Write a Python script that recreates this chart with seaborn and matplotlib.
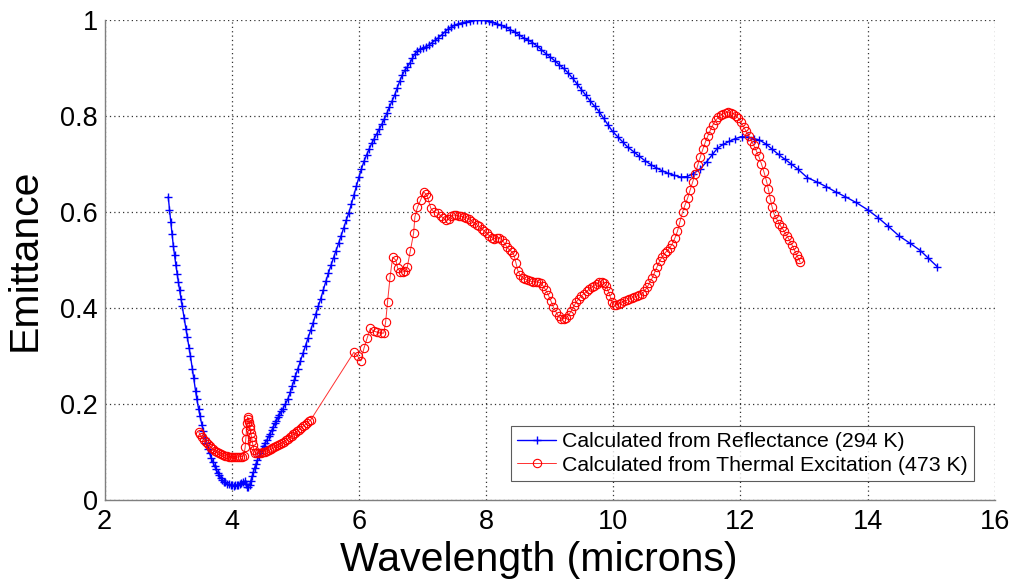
import matplotlib
matplotlib.use("Agg")
import matplotlib.pyplot as plt
import seaborn as sns
import pandas as pd

# emittance from reflectance (294 K): (wavelength um, emittance)
refl_pts = [
    (3.00, 0.632), (3.02, 0.605), (3.04, 0.580), (3.06, 0.555), (3.08, 0.530),
    (3.10, 0.510), (3.12, 0.490), (3.14, 0.472), (3.16, 0.455), (3.18, 0.437),
    (3.20, 0.420), (3.22, 0.404), (3.25, 0.380), (3.28, 0.356), (3.30, 0.340),
    (3.33, 0.316), (3.35, 0.300), (3.38, 0.273), (3.40, 0.255), (3.43, 0.228),
    (3.45, 0.210), (3.48, 0.189), (3.50, 0.175), (3.53, 0.157), (3.55, 0.145),
    (3.58, 0.130), (3.60, 0.120), (3.63, 0.107), (3.65, 0.098), (3.68, 0.087),
    (3.70, 0.080), (3.73, 0.071), (3.75, 0.065), (3.78, 0.057), (3.80, 0.052),
    (3.83, 0.046), (3.85, 0.043), (3.88, 0.039), (3.90, 0.037), (3.93, 0.034),
    (3.95, 0.033), (3.98, 0.032), (4.00, 0.031), (4.03, 0.030), (4.05, 0.031),
    (4.08, 0.031), (4.10, 0.032), (4.13, 0.034), (4.15, 0.036), (4.18, 0.039),
    (4.20, 0.040), (4.22, 0.034), (4.24, 0.027), (4.26, 0.028), (4.28, 0.032),
    (4.30, 0.041), (4.32, 0.050), (4.34, 0.059), (4.36, 0.068), (4.38, 0.076),
    (4.40, 0.083), (4.43, 0.092), (4.45, 0.098), (4.48, 0.106), (4.50, 0.112),
    (4.53, 0.120), (4.55, 0.125), (4.58, 0.133), (4.60, 0.138), (4.63, 0.146),
    (4.65, 0.152), (4.68, 0.160), (4.70, 0.165), (4.73, 0.173), (4.75, 0.178),
    (4.78, 0.185), (4.80, 0.190), (4.84, 0.200), (4.88, 0.210), (4.92, 0.225),
    (4.95, 0.238), (4.98, 0.250), (5.00, 0.258), (5.04, 0.274), (5.08, 0.290),
    (5.12, 0.306), (5.16, 0.322), (5.20, 0.338), (5.24, 0.354), (5.28, 0.370),
    (5.32, 0.387), (5.36, 0.404), (5.40, 0.420), (5.44, 0.438), (5.48, 0.456),
    (5.52, 0.473), (5.56, 0.489), (5.60, 0.505), (5.64, 0.520), (5.68, 0.535),
    (5.72, 0.551), (5.76, 0.567), (5.80, 0.583), (5.84, 0.598), (5.88, 0.616),
    (5.92, 0.635), (5.96, 0.654), (6.00, 0.673), (6.04, 0.690), (6.08, 0.706),
    (6.12, 0.719), (6.16, 0.731), (6.20, 0.743), (6.24, 0.753), (6.28, 0.763),
    (6.32, 0.773), (6.36, 0.783), (6.40, 0.794), (6.44, 0.806), (6.48, 0.819),
    (6.52, 0.831), (6.56, 0.843), (6.60, 0.858), (6.64, 0.872), (6.68, 0.885),
    (6.72, 0.895), (6.76, 0.902), (6.80, 0.910), (6.84, 0.920), (6.88, 0.929),
    (6.92, 0.935), (6.96, 0.939), (7.00, 0.942), (7.05, 0.944), (7.10, 0.948),
    (7.15, 0.953), (7.20, 0.958), (7.25, 0.963), (7.30, 0.969), (7.35, 0.975),
    (7.40, 0.981), (7.45, 0.985), (7.50, 0.989), (7.56, 0.992), (7.62, 0.994),
    (7.68, 0.996), (7.74, 0.998), (7.80, 1.000), (7.86, 1.000), (7.92, 1.000),
    (7.98, 0.999), (8.04, 0.997), (8.10, 0.995), (8.17, 0.992), (8.24, 0.989),
    (8.31, 0.985), (8.38, 0.980), (8.45, 0.975), (8.52, 0.969), (8.59, 0.963),
    (8.66, 0.958), (8.73, 0.953), (8.80, 0.946), (8.87, 0.938), (8.94, 0.930),
    (9.01, 0.923), (9.08, 0.915), (9.15, 0.907), (9.22, 0.899), (9.29, 0.890),
    (9.36, 0.879), (9.43, 0.867), (9.50, 0.855), (9.57, 0.843), (9.64, 0.831),
    (9.71, 0.820), (9.78, 0.809), (9.85, 0.795), (9.92, 0.781), (9.99, 0.768),
    (10.07, 0.757), (10.15, 0.746), (10.23, 0.735), (10.32, 0.726), (10.41, 0.716),
    (10.50, 0.707), (10.59, 0.699), (10.68, 0.692), (10.77, 0.686), (10.86, 0.681),
    (10.95, 0.677), (11.06, 0.673), (11.16, 0.674), (11.26, 0.680), (11.37, 0.690),
    (11.47, 0.705), (11.56, 0.720), (11.64, 0.733), (11.73, 0.741), (11.82, 0.747),
    (11.92, 0.753), (12.02, 0.757), (12.12, 0.756), (12.21, 0.753), (12.30, 0.750),
    (12.40, 0.742), (12.50, 0.731), (12.60, 0.720), (12.70, 0.710), (12.80, 0.700),
    (12.90, 0.690), (13.05, 0.672), (13.20, 0.663), (13.35, 0.653), (13.50, 0.642),
    (13.65, 0.632), (13.82, 0.620), (14.00, 0.605), (14.17, 0.588), (14.33, 0.570),
    (14.50, 0.550), (14.67, 0.535), (14.83, 0.520), (14.95, 0.505), (15.10, 0.486),
]

# emittance from thermal excitation (473 K): (wavelength um, emittance)
therm_pts = [
    (3.48, 0.142), (3.50, 0.137), (3.53, 0.131), (3.56, 0.126), (3.59, 0.121),
    (3.62, 0.117), (3.65, 0.113), (3.68, 0.109), (3.71, 0.106), (3.74, 0.103),
    (3.77, 0.100), (3.80, 0.098), (3.83, 0.096), (3.86, 0.094), (3.89, 0.093),
    (3.92, 0.092), (3.95, 0.091), (3.98, 0.090), (4.01, 0.090), (4.04, 0.090),
    (4.07, 0.090), (4.10, 0.090), (4.13, 0.091), (4.16, 0.091), (4.19, 0.093),
    (4.21, 0.110), (4.22, 0.128), (4.23, 0.145), (4.24, 0.160), (4.25, 0.173),
    (4.26, 0.170), (4.27, 0.162), (4.28, 0.155), (4.29, 0.148), (4.30, 0.140),
    (4.31, 0.132), (4.32, 0.124), (4.33, 0.116), (4.35, 0.104), (4.37, 0.099),
    (4.40, 0.098), (4.43, 0.098), (4.46, 0.099), (4.49, 0.100), (4.52, 0.101),
    (4.55, 0.102), (4.58, 0.104), (4.61, 0.106), (4.64, 0.108), (4.67, 0.110),
    (4.70, 0.112), (4.73, 0.114), (4.76, 0.117), (4.79, 0.119), (4.82, 0.122),
    (4.85, 0.125), (4.88, 0.128), (4.91, 0.131), (4.94, 0.134), (4.97, 0.137),
    (5.00, 0.140), (5.03, 0.144), (5.06, 0.147), (5.09, 0.151), (5.12, 0.154),
    (5.15, 0.157), (5.18, 0.160), (5.21, 0.164), (5.24, 0.167),
    (5.92, 0.308), (5.98, 0.300), (6.03, 0.290), (6.08, 0.317), (6.13, 0.338),
    (6.18, 0.358), (6.23, 0.352), (6.29, 0.350), (6.34, 0.348), (6.39, 0.348),
    (6.42, 0.371), (6.45, 0.413), (6.49, 0.465), (6.53, 0.506), (6.58, 0.500),
    (6.61, 0.483), (6.65, 0.476), (6.69, 0.475), (6.73, 0.478), (6.76, 0.485),
    (6.81, 0.520), (6.86, 0.556), (6.88, 0.590), (6.92, 0.610), (6.97, 0.625),
    (7.02, 0.642), (7.05, 0.638), (7.08, 0.631), (7.13, 0.608), (7.18, 0.600),
    (7.24, 0.598), (7.29, 0.592), (7.33, 0.587), (7.37, 0.583), (7.41, 0.585),
    (7.45, 0.591), (7.49, 0.594), (7.53, 0.593), (7.57, 0.592), (7.61, 0.591),
    (7.65, 0.590), (7.69, 0.588), (7.73, 0.586), (7.77, 0.582), (7.81, 0.578),
    (7.85, 0.574), (7.89, 0.570), (7.93, 0.565), (7.97, 0.561), (8.01, 0.556),
    (8.05, 0.551), (8.09, 0.547), (8.13, 0.545), (8.17, 0.546), (8.21, 0.546),
    (8.25, 0.542), (8.29, 0.535), (8.33, 0.527), (8.37, 0.521), (8.41, 0.517),
    (8.44, 0.510), (8.47, 0.494), (8.50, 0.478), (8.54, 0.468), (8.58, 0.463),
    (8.62, 0.460), (8.66, 0.458), (8.70, 0.456), (8.74, 0.455), (8.78, 0.455),
    (8.82, 0.454), (8.86, 0.452), (8.90, 0.446), (8.94, 0.437), (8.98, 0.427),
    (9.02, 0.415), (9.06, 0.402), (9.10, 0.392), (9.14, 0.383), (9.18, 0.378),
    (9.22, 0.378), (9.26, 0.380), (9.30, 0.386), (9.34, 0.394), (9.38, 0.404),
    (9.42, 0.413), (9.46, 0.420), (9.50, 0.426), (9.54, 0.430), (9.58, 0.435),
    (9.62, 0.439), (9.66, 0.443), (9.70, 0.447), (9.74, 0.451), (9.78, 0.454),
    (9.82, 0.455), (9.86, 0.452), (9.89, 0.446), (9.92, 0.436), (9.95, 0.425),
    (9.98, 0.413), (10.01, 0.406), (10.05, 0.407), (10.09, 0.409), (10.13, 0.411),
    (10.17, 0.414), (10.21, 0.416), (10.25, 0.419), (10.29, 0.421), (10.33, 0.423),
    (10.37, 0.425), (10.41, 0.427), (10.45, 0.430), (10.49, 0.435), (10.53, 0.443),
    (10.57, 0.452), (10.61, 0.462), (10.65, 0.474), (10.69, 0.486), (10.73, 0.498),
    (10.77, 0.507), (10.81, 0.514), (10.85, 0.520), (10.89, 0.526), (10.93, 0.534),
    (10.97, 0.546), (11.01, 0.560), (11.05, 0.580), (11.09, 0.600), (11.13, 0.615),
    (11.17, 0.629), (11.21, 0.646), (11.25, 0.663), (11.29, 0.680), (11.33, 0.698),
    (11.37, 0.715), (11.41, 0.731), (11.45, 0.746), (11.49, 0.759), (11.53, 0.771),
    (11.57, 0.782), (11.61, 0.791), (11.65, 0.797), (11.69, 0.802), (11.73, 0.805),
    (11.77, 0.807), (11.81, 0.808), (11.85, 0.807), (11.89, 0.805), (11.93, 0.801),
    (11.97, 0.795), (12.01, 0.787), (12.05, 0.778), (12.09, 0.768), (12.13, 0.759),
    (12.17, 0.749), (12.21, 0.739), (12.25, 0.728), (12.29, 0.716), (12.33, 0.701),
    (12.37, 0.684), (12.41, 0.665), (12.44, 0.648), (12.47, 0.628), (12.50, 0.610),
    (12.53, 0.596), (12.57, 0.586), (12.61, 0.576), (12.65, 0.568), (12.69, 0.560),
    (12.73, 0.551), (12.77, 0.542), (12.81, 0.532), (12.85, 0.521), (12.89, 0.510),
    (12.92, 0.502), (12.94, 0.496),
]

x_ticks = [2, 4, 6, 8, 10, 12, 14, 16]
y_ticks = [0, 0.2, 0.4, 0.6, 0.8, 1]
y_tick_labels = ["0", "0.2", "0.4", "0.6", "0.8", "1"]

sns.set_style("white")
plt.rcParams["font.family"] = ["Liberation Sans", "DejaVu Sans"]
plt.rcParams["text.color"] = "black"
plt.rcParams["axes.labelcolor"] = "black"

refl = pd.DataFrame(refl_pts, columns=["wl", "em"])
therm = pd.DataFrame(therm_pts, columns=["wl", "em"])

fig, ax = plt.subplots(figsize=(10.16, 5.81), dpi=100)
fig.subplots_adjust(left=0.103, right=0.979, bottom=0.139, top=0.9656)

sns.lineplot(data=refl, x="wl", y="em", ax=ax, estimator=None, sort=False,
             color="#0000ff", linewidth=1.0, marker="+", markersize=6,
             markeredgewidth=1.0, markeredgecolor="#0000ff",
             label="Calculated from Reflectance (294 K)")
sns.lineplot(data=therm, x="wl", y="em", ax=ax, estimator=None, sort=False,
             color="#ff3030", linewidth=0.7, marker="o", markersize=6,
             markerfacecolor="none", markeredgewidth=0.8, markeredgecolor="#ff0000",
             label="Calculated from Thermal Excitation (473 K)")

ax.set_xlim(2, 16)
ax.set_ylim(0, 1)
ax.set_xticks(x_ticks)
ax.set_yticks(y_ticks)
ax.set_yticklabels(y_tick_labels)
ax.tick_params(direction="in", length=5, labelsize=19.5, labelcolor="#000000",
               color="#7f7f7f", width=1)
ax.tick_params(axis="x", pad=6)
ax.tick_params(axis="y", pad=5)

ax.grid(True, linestyle=(0, (1, 2.5)), color="#333333", linewidth=0.9)
for side in ["top", "right"]:
    ax.spines[side].set_visible(False)
for side in ["left", "bottom"]:
    ax.spines[side].set_color("#7f7f7f")
    ax.spines[side].set_linewidth(1.0)

ax.set_xlabel("Wavelength (microns)", fontsize=29.5, va="baseline", color="black")
ax.xaxis.set_label_coords(0.488, -0.147)
ax.set_ylabel("Emittance", fontsize=29.5, va="center", color="black")
ax.yaxis.set_label_coords(-0.09, 0.5)

leg = ax.legend(loc="lower right", bbox_to_anchor=(0.977, 0.04), fontsize=15.3,
                frameon=True, fancybox=False, edgecolor="#333333",
                handlelength=1.8, handletextpad=0.3, borderpad=0.3,
                labelspacing=0.2, borderaxespad=0)
leg.get_frame().set_linewidth(0.8)
for txt in leg.get_texts():
    txt.set_color("black")

fig.savefig("out.png", dpi=100)
